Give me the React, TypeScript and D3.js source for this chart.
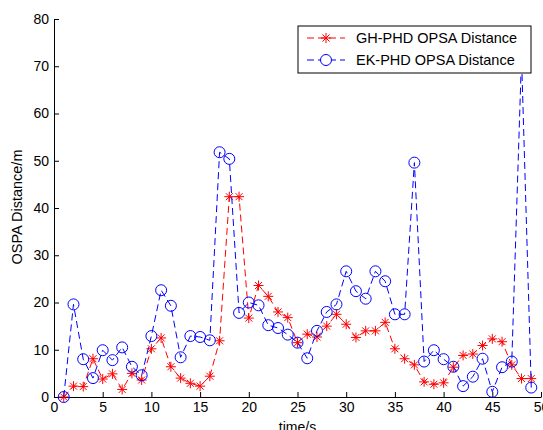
import React, { useEffect, useRef } from "react";
import * as d3 from "d3";

const times = d3.range(1, 50);
const ghValues = [0, 2.3, 2.2, 8.1, 3.8, 4.9, 1.6, 5.0, 3.6, 10.2,
  12.5, 6.4, 4.0, 2.9, 2.3, 4.4, 11.9, 42.4, 42.4, 16.7,
  23.6, 21.3, 18.0, 16.8, 11.5, 13.3, 12.7, 15.0, 17.5, 15.4,
  12.6, 14.0, 14.0, 15.8, 10.2, 8.1, 6.8, 3.2, 2.7, 3.0,
  6.3, 8.8, 9.1, 10.9, 12.3, 11.7, 6.8, 3.9, 3.9];
const ekValues = [0, 19.6, 8.0, 4.0, 9.9, 7.8, 10.5, 6.4, 4.6, 12.9,
  22.6, 19.3, 8.4, 12.9, 12.7, 12.0, 51.8, 50.4, 17.8, 20.0,
  19.4, 15.2, 14.6, 13.2, 11.5, 8.2, 14.0, 18.0, 19.6, 26.6,
  22.4, 20.8, 26.6, 24.5, 17.5, 17.5, 49.6, 7.5, 9.9, 8.0,
  6.4, 2.3, 4.3, 8.1, 1.1, 6.3, 7.5, 72, 2.0];
const xTicks = d3.range(0, 51, 5);
const yTicks = d3.range(0, 81, 10);
const legendLabels = ["GH-PHD OPSA Distance", "EK-PHD OPSA Distance"];

const W = 543;
const H = 430;

function App() {
  const ref = useRef<SVGSVGElement>(null);

  useEffect(() => {
    const svg = d3.select(ref.current);
    svg.selectAll("*").remove();

    const x = d3.scaleLinear().domain([0, 50]).range([54, 541]);
    const y = d3.scaleLinear().domain([0, 80]).range([397, 19]);
    const font = "Arial, 'Liberation Sans', sans-serif";
    const fs = 14;

    // axes, ticks pointing inward
    const gx = svg.append("g").attr("transform", "translate(0,397)")
      .call(d3.axisBottom(x).tickValues(xTicks).tickSizeInner(-5).tickSizeOuter(0).tickPadding(5));
    const gy = svg.append("g").attr("transform", "translate(54,0)")
      .call(d3.axisLeft(y).tickValues(yTicks).tickSizeInner(-5).tickSizeOuter(0).tickPadding(5));
    [gx, gy].forEach(g => {
      g.selectAll("text").attr("font-size", fs).attr("font-family", font).attr("fill", "#000");
      g.select(".domain").attr("stroke", "#000");
    });

    svg.append("text").attr("x", (54 + 541) / 2).attr("y", 432).attr("text-anchor", "middle")
      .attr("font-size", fs).attr("font-family", font).text("time/s");
    svg.append("text").attr("transform", "translate(22,207) rotate(-90)").attr("text-anchor", "middle")
      .attr("font-size", fs + 0.5).attr("font-family", font).text("OSPA Distance/m");

    const line = d3.line<number>().x((d, i) => x(times[i])).y(d => y(d));

    const star = (g: any, cx: number, cy: number, s: number) => {
      [[-s, 0, s, 0], [0, -s, 0, s], [-s * 0.7, -s * 0.7, s * 0.7, s * 0.7], [-s * 0.7, s * 0.7, s * 0.7, -s * 0.7]]
        .forEach(([a, b, c, e]) => g.append("line")
          .attr("x1", cx + a).attr("y1", cy + b).attr("x2", cx + c).attr("y2", cy + e)
          .attr("stroke", "#ff0000").attr("stroke-width", 1));
    };

    // GH series (red, asterisks)
    svg.append("path").attr("d", line(ghValues)).attr("fill", "none")
      .attr("stroke", "#ff0000").attr("stroke-width", 1).attr("stroke-dasharray", "7,4");
    const gRed = svg.append("g");
    ghValues.forEach((v, i) => star(gRed, x(times[i]), y(v), 5));

    // EK series (blue, circles)
    svg.append("path").attr("d", line(ekValues)).attr("fill", "none")
      .attr("stroke", "#0000ff").attr("stroke-width", 1).attr("stroke-dasharray", "7,4");
    svg.append("g").selectAll("circle").data(ekValues).enter().append("circle")
      .attr("cx", (d, i) => x(times[i])).attr("cy", d => y(d)).attr("r", 5.5)
      .attr("fill", "none").attr("stroke", "#0000ff").attr("stroke-width", 1);

    // legend
    const lg = svg.append("g");
    lg.append("rect").attr("x", 298).attr("y", 26).attr("width", 233).attr("height", 47)
      .attr("fill", "#fff").attr("stroke", "#000").attr("stroke-width", 1);
    const colors = ["#ff0000", "#0000ff"];
    legendLabels.forEach((lab, i) => {
      const cy = 38 + i * 22;
      lg.append("line").attr("x1", 307).attr("x2", 345).attr("y1", cy).attr("y2", cy)
        .attr("stroke", colors[i]).attr("stroke-dasharray", "7,4").attr("stroke-width", 1);
      if (i === 0) star(lg, 326, cy, 5);
      else lg.append("circle").attr("cx", 326).attr("cy", cy).attr("r", 5.5)
        .attr("fill", "#fff").attr("stroke", colors[i]);
      lg.append("text").attr("x", 356).attr("y", cy).attr("dy", "0.35em")
        .attr("font-size", 14.5).attr("font-family", font).text(lab);
    });
  }, []);

  return (
    <svg ref={ref} width={W} height={H}
      style={{ position: "absolute", left: 0, top: 0, background: "#fff" }} />
  );
}

export default App;
